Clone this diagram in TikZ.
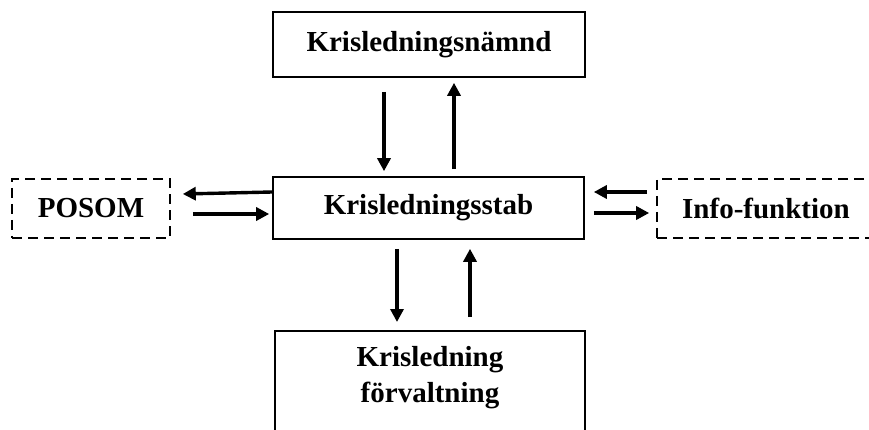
\documentclass[tikz,border=0pt]{standalone}
\usepackage{fontspec}
\setmainfont{Liberation Serif}
\usepackage{tikz}
\usetikzlibrary{
  arrows.meta,
  positioning,
  calc
}
\definecolor{inkblack}{RGB}{0,0,0}
\newcommand{\boxfont}{\fontsize{29}{36}\selectfont\bfseries}

\begin{document}
\begin{tikzpicture}[x=1pt, y=-1pt,
    unitbox/.style={draw=inkblack, line width=1.6pt, inner sep=0pt, font=\boxfont},
    sidebox/.style={unitbox, dashed, dash pattern=on 10pt off 6pt},
    flow/.style={draw=inkblack, line width=3.4pt, -{Triangle[length=13pt, width=13pt]}}]
  \useasboundingbox (0,0) rectangle (869,430);
  \clip (0,0) rectangle (869,430);
  % boxes
  \node[unitbox, minimum width=312pt, minimum height=65pt] (naemnd) at (429,44.5) {Krisledningsnämnd};
  \node[unitbox, minimum width=311pt, minimum height=62pt] (stab) at (428.5,208) {Krisledningsstab};
  \node[unitbox, minimum width=310pt, minimum height=120pt, anchor=north] (forv) at (430,330) {};
  \node[font=\boxfont, align=center] (forvtext) at (430,378) {Krisledning\\förvaltning};
  \node[sidebox, minimum width=158pt, minimum height=59pt] (posom) at (91,208.5) {POSOM};
  \node[sidebox, minimum width=218pt, minimum height=59pt] (info) at (766,208.5) {Info-funktion};
  % arrows up/down
  \draw[flow] ([xshift=-45pt,yshift=-14pt]naemnd.south) -- ([xshift=-44.5pt,yshift=5pt]stab.north);
  \draw[flow] ([xshift=25.5pt,yshift=7pt]stab.north) -- ([xshift=25pt,yshift=-5pt]naemnd.south);
  \draw[flow] ([xshift=-31.5pt,yshift=-9pt]stab.south) -- ([xshift=-33pt,yshift=8pt]forv.north);
  \draw[flow] ([xshift=40pt,yshift=13pt]forv.north) -- ([xshift=41.5pt,yshift=-9pt]stab.south);
  % arrows left/right
  \draw[flow] ([yshift=16pt]stab.west) -- ([xshift=12pt,yshift=14.5pt]posom.east);
  \draw[flow] ([xshift=22pt,yshift=-5.5pt]posom.east) -- ([xshift=-3pt,yshift=-6pt]stab.west);
  \draw[flow] ([xshift=-9pt,yshift=16.5pt]info.west) -- ([xshift=9pt,yshift=16pt]stab.east);
  \draw[flow] ([xshift=9pt,yshift=-5pt]stab.east) -- ([xshift=-7pt,yshift=-4.5pt]info.west);
\end{tikzpicture}
\end{document}
